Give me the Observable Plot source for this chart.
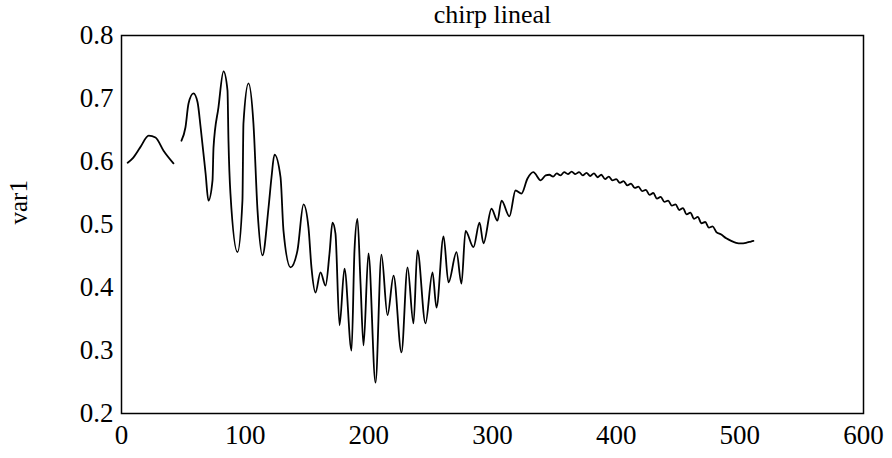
<!DOCTYPE html>
<html><head><meta charset="utf-8">
<script src="https://cdn.jsdelivr.net/npm/d3@7"></script>
<script src="https://cdn.jsdelivr.net/npm/@observablehq/plot@0.6"></script>
<style>body{margin:0;background:#fff} svg{font-family:"Liberation Serif",serif}</style>
</head><body><div id="chart"></div>
<script>
const title = "chirp lineal";
const yLabel = "var1";
const xTicks = [0, 100, 200, 300, 400, 500, 600];
const yTicks = [0.2, 0.3, 0.4, 0.5, 0.6, 0.7, 0.8];

const xs = [5, 9, 15, 22, 27.5, 34, 42, 45, 48.5, 51.7, 54.2, 58.2, 61.5, 64, 68, 70.3, 73.6, 74.4, 78.4, 82.5, 85.7, 86.5, 88.1, 93.8, 97.8, 98.6, 102.7, 106.7, 110, 114, 118.9, 121.3, 123.7, 128.6, 131, 136.7, 142.3, 147.2, 151.2, 153.6, 156.9, 160.9, 165, 168.2, 170.6, 173, 176.3, 180.3, 186, 188.4, 190.8, 193.3, 195.7, 199.7, 205.4, 210.2, 215.1, 220, 226.4, 231.3, 236.1, 239.3, 245.8, 251.5, 254.7, 260.4, 264.4, 270.9, 274.9, 278.2, 284.6, 289.5, 292.7, 299.2, 304, 307.3, 313.7, 318.6, 323.4, 328.3, 333, 339, 343,
  346, 349, 352, 355, 358, 361, 364, 367, 370, 373, 376, 379, 382, 385, 388, 391, 394, 397, 400, 403, 406, 409, 412, 415, 418, 421, 424, 427, 430, 433, 436, 439, 442, 445, 448, 451, 454, 457, 460, 463, 466, 469, 472, 475, 478, 481, 485, 489, 493, 497, 501, 505, 509, 511];
const ys = [0.598, 0.605, 0.622, 0.641, 0.638, 0.617, 0.597, NaN, 0.633, 0.654, 0.692, 0.708, 0.694, 0.654, 0.581, 0.538, 0.570, 0.622, 0.686, 0.743, 0.713, 0.633, 0.549, 0.456, 0.538, 0.660, 0.724, 0.660, 0.522, 0.451, 0.527, 0.575, 0.611, 0.575, 0.490, 0.432, 0.459, 0.532, 0.495, 0.432, 0.392, 0.424, 0.403, 0.454, 0.503, 0.486, 0.340, 0.430, 0.300, 0.459, 0.509, 0.406, 0.308, 0.454, 0.249, 0.452, 0.356, 0.419, 0.297, 0.432, 0.343, 0.459, 0.343, 0.424, 0.368, 0.481, 0.408, 0.456, 0.406, 0.490, 0.464, 0.503, 0.470, 0.525, 0.506, 0.538, 0.513, 0.554, 0.549, 0.573, 0.583, 0.570, 0.578,
  0.579, 0.576, 0.581, 0.578, 0.583, 0.580, 0.584, 0.580, 0.583, 0.578, 0.582, 0.577, 0.581, 0.575, 0.579, 0.572, 0.576, 0.570, 0.572, 0.566, 0.569, 0.562, 0.565, 0.558, 0.560, 0.553, 0.555, 0.547, 0.550, 0.541, 0.544, 0.536, 0.538, 0.530, 0.532, 0.523, 0.526, 0.516, 0.519, 0.509, 0.512, 0.502, 0.504, 0.495, 0.497, 0.488, 0.484, 0.478, 0.474, 0.471, 0.470, 0.471, 0.473, 0.474];

const data = xs.map((x, i) => ({x, y: ys[i]}));

const plot = Plot.plot({
  width: 892, height: 458,
  marginTop: 35, marginLeft: 121, marginRight: 29, marginBottom: 45,
  style: {fontFamily: "Liberation Serif, serif", background: "#fff", color: "#000"},
  x: {domain: [0, 600], label: null},
  y: {domain: [0.2, 0.8], label: null},
  marks: [
    Plot.axisX({ticks: xTicks, tickSize: 0, tickPadding: 11, fontSize: 27, label: null, tickFormat: d => String(d)}),
    Plot.axisY({ticks: yTicks, tickSize: 0, tickPadding: 8, fontSize: 27, label: null, tickFormat: d3.format(".1f")}),
    Plot.frame({stroke: "#000", strokeWidth: 1.5}),
    Plot.line(data, {x: "x", y: "y", stroke: "#000", strokeWidth: 1.8, curve: "monotone-x"}),
    Plot.text([title], {frameAnchor: "top", dy: -31, fontSize: 26, text: d => d, fill: "#000"}),
    Plot.text([yLabel], {frameAnchor: "left", dx: -103, rotate: -90, fontSize: 25, text: d => d, fill: "#000"})
  ]
});
document.getElementById("chart").appendChild(plot);
</script>
</body></html>
